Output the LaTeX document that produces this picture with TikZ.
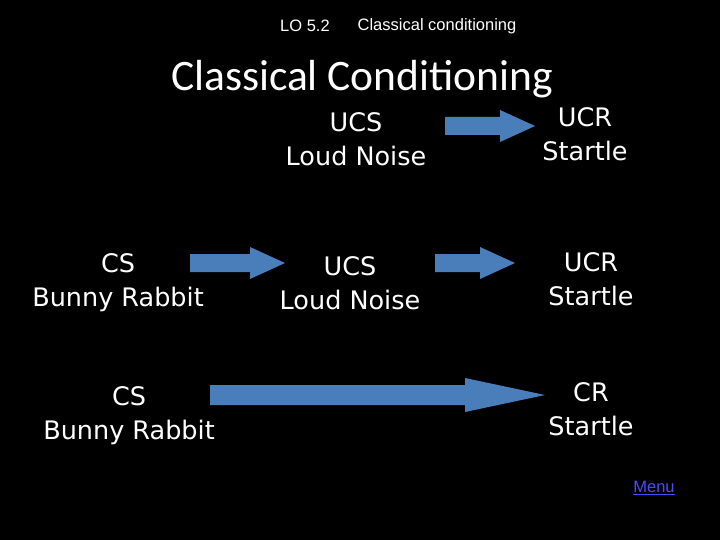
\documentclass[tikz,border=0pt]{standalone}
\usepackage{fontspec}
\setmainfont{DejaVu Sans}
\newfontfamily\titlef{Carlito}
\newfontfamily\smallf{Liberation Sans}
\definecolor{arr}{HTML}{4A7EBB}
\begin{document}
\begin{tikzpicture}[x=1pt,y=-1pt,
  lab/.style={text=white,font=\fontsize{25.5}{34}\selectfont,align=center,inner sep=0},
  sm/.style={text=white,font=\smallf\fontsize{16.5}{18}\selectfont,inner sep=0}]
\fill[black] (0,0) rectangle (720,540);
\useasboundingbox (0,0) rectangle (720,540);
\node[sm] (lo) at (305,26) {LO 5.2};
\node[sm] (cc) at (437,26) {Classical conditioning};
\node[text=white,font=\titlef\fontsize{43.5}{48}\selectfont,inner sep=0] (t) at (362,79) {Classical Conditioning};
\node[lab] (a1) at (356,139) {UCS\\Loud Noise};
\node[lab] (a2) at (585,134) {UCR\\Startle};
\node[lab] (b1) at (118,283) {CS\\Bunny Rabbit};
\node[lab] (b2) at (350,283) {UCS\\Loud Noise};
\node[lab] (b3) at (591,279) {UCR\\Startle};
\node[lab] (c1) at (129,416) {CS\\Bunny Rabbit};
\node[lab] (c3) at (591,409) {CR\\Startle};
\node[text=blue!70!white,font=\smallf\fontsize{16.5}{18}\selectfont,inner sep=0] (m) at (654,488) {\underline{Menu}};
\fill[arr] (445,117)--(500,117)--(500,110)--(535,126)--(500,142)--(500,135)--(445,135)--cycle;
\fill[arr] (190,254)--(250,254)--(250,247)--(285,263)--(250,279)--(250,272)--(190,272)--cycle;
\fill[arr] (435,254)--(480,254)--(480,247)--(515,263)--(480,279)--(480,272)--(435,272)--cycle;
\fill[arr] (210,385)--(465,385)--(465,378)--(545,395)--(465,412)--(465,405)--(210,405)--cycle;
\end{tikzpicture}
\end{document}
